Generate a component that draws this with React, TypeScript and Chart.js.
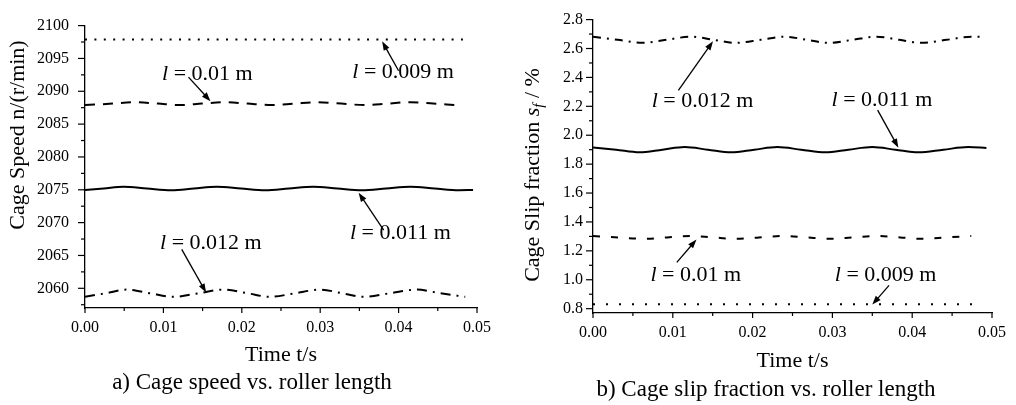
import React, { useEffect, useRef } from 'react';
import { Chart, registerables } from 'chart.js';

Chart.register(...registerables);

const SERIF = '"Liberation Serif", "Times New Roman", Times, serif';

// ---------- Panel a) Cage speed (r/min) ----------
const A_T_009 = [0, 0.012, 0.024, 0.036, 0.0482];
const A_V_009 = [2097.9, 2097.9, 2097.9, 2097.9, 2097.9];

const A_T_010 = [0, 0.0035, 0.0064, 0.0093, 0.0121, 0.0149, 0.0177, 0.0207, 0.0238, 0.0267, 0.0296, 0.0327, 0.0357, 0.0386, 0.0415, 0.0444, 0.0472];
const A_V_010 = [2087.9, 2088.12, 2088.33, 2088.12, 2087.9, 2088.12, 2088.34, 2088.12, 2087.9, 2088.12, 2088.34, 2088.12, 2087.9, 2088.12, 2088.34, 2088.12, 2087.9];

const A_T_011 = [0, 0.0024, 0.0049, 0.0079, 0.011, 0.0139, 0.0168, 0.0199, 0.023, 0.026, 0.0291, 0.0322, 0.0353, 0.0384, 0.0415, 0.0446, 0.0477, 0.0495];
const A_V_011 = [2074.95, 2075.2, 2075.48, 2075.2, 2074.93, 2075.2, 2075.48, 2075.2, 2074.93, 2075.2, 2075.48, 2075.2, 2074.93, 2075.2, 2075.48, 2075.2, 2074.93, 2074.97];

const A_T_012 = [0, 0.0027, 0.0053, 0.0083, 0.0113, 0.0145, 0.0177, 0.0207, 0.0236, 0.0268, 0.03, 0.0328, 0.0355, 0.0389, 0.0423, 0.0453, 0.0485];
const A_V_012 = [2058.72, 2059.25, 2059.8, 2059.25, 2058.7, 2059.25, 2059.8, 2059.25, 2058.7, 2059.25, 2059.8, 2059.25, 2058.7, 2059.25, 2059.8, 2059.25, 2058.7];

const A_Y_MAJOR = [2060, 2065, 2070, 2075, 2080, 2085, 2090, 2095, 2100];
const A_Y_MINOR = [2057.5, 2062.5, 2067.5, 2072.5, 2077.5, 2082.5, 2087.5, 2092.5, 2097.5];

// ---------- Panel b) Cage slip fraction (%) ----------
const B_T_009 = [0, 0.012, 0.024, 0.036, 0.0485];
const B_V_009 = [0.83, 0.83, 0.83, 0.83, 0.83];

const B_T_010 = [0, 0.0032, 0.0064, 0.0093, 0.0122, 0.015, 0.0179, 0.0208, 0.0238, 0.0267, 0.0297, 0.0326, 0.0355, 0.0385, 0.0414, 0.0443, 0.0474];
const B_V_010 = [1.302, 1.293, 1.283, 1.293, 1.303, 1.293, 1.283, 1.293, 1.303, 1.293, 1.283, 1.293, 1.303, 1.293, 1.283, 1.293, 1.303];

const B_T_011 = [0, 0.0029, 0.0058, 0.0087, 0.0115, 0.0144, 0.0173, 0.0202, 0.0231, 0.0261, 0.0291, 0.032, 0.035, 0.0379, 0.0408, 0.0439, 0.047, 0.0493];
const B_V_011 = [1.915, 1.9, 1.882, 1.9, 1.918, 1.9, 1.882, 1.9, 1.918, 1.9, 1.882, 1.9, 1.918, 1.9, 1.882, 1.9, 1.918, 1.912];

const B_T_012 = [0, 0.0031, 0.0062, 0.0092, 0.0123, 0.0151, 0.0179, 0.021, 0.024, 0.0268, 0.0295, 0.0325, 0.0355, 0.0384, 0.0412, 0.0443, 0.0474, 0.0485];
const B_V_012 = [2.682, 2.66, 2.639, 2.66, 2.682, 2.66, 2.639, 2.66, 2.682, 2.66, 2.639, 2.66, 2.682, 2.66, 2.639, 2.66, 2.682, 2.681];

const B_Y_MAJOR = [0.8, 1.0, 1.2, 1.4, 1.6, 1.8, 2.0, 2.2, 2.4, 2.6, 2.8];
const B_Y_MINOR = [0.9, 1.1, 1.3, 1.5, 1.7, 1.9, 2.1, 2.3, 2.5, 2.7];

// ---------- shared ----------
const X_MAJOR = [0, 0.01, 0.02, 0.03, 0.04, 0.05];
const X_MINOR = [0.005, 0.015, 0.025, 0.035, 0.045];
const X_TITLE = 'Time t/s';
const CAPTION_A = 'a) Cage speed vs. roller length';
const CAPTION_B = 'b) Cage slip fraction vs. roller length';
const LABELS = ['0.009', '0.01', '0.011', '0.012'];

type Seg = { t: string; italic?: boolean; sub?: boolean };

function segFont(s: Seg, size: number) {
  const sz = s.sub ? Math.round(size * 0.68) : size;
  return `${s.italic ? 'italic ' : ''}${sz}px ${SERIF}`;
}

function drawRich(ctx: CanvasRenderingContext2D, segs: Seg[], x: number, y: number, size: number, align: 'left' | 'center') {
  let total = 0;
  const widths = segs.map((s) => {
    ctx.font = segFont(s, size);
    const w = ctx.measureText(s.t).width;
    total += w;
    return w;
  });
  let cx = align === 'center' ? x - total / 2 : x;
  ctx.textBaseline = 'middle';
  ctx.textAlign = 'left';
  segs.forEach((s, i) => {
    ctx.font = segFont(s, size);
    ctx.fillText(s.t, cx, s.sub ? y + size * 0.28 : y);
    cx += widths[i];
  });
}

function drawArrow(ctx: CanvasRenderingContext2D, x1: number, y1: number, x2: number, y2: number) {
  const a = Math.atan2(y2 - y1, x2 - x1);
  const hl = 9;
  const hw = 3.2;
  const c = Math.cos(a);
  const s = Math.sin(a);
  ctx.beginPath();
  ctx.moveTo(x1, y1);
  ctx.lineTo(x2 - hl * 0.7 * c, y2 - hl * 0.7 * s);
  ctx.stroke();
  ctx.beginPath();
  ctx.moveTo(x2, y2);
  ctx.lineTo(x2 - hl * c + hw * s, y2 - hl * s - hw * c);
  ctx.lineTo(x2 - hl * c - hw * s, y2 - hl * s + hw * c);
  ctx.closePath();
  ctx.fill();
}

type Anno = { label: string; tx: number; ty: number; fx: number; fy: number; ax: number; ay: number };

type Series = { t: number[]; v: number[]; dash: number[] };

type PanelCfg = {
  left: number;
  yMin: number;
  yMax: number;
  yMajor: number[];
  yMinor: number[];
  yDecimals: number;
  yTickPad: number;
  padTop: number;
  padRight: number;
  yWidth: number;
  xHeight: number;
  series: Series[];
  annos: Anno[];
  yTitle: Seg[];
  yTitleX: number;
  yTitleY: number;
  xTitleOffset: number;
  caption: string;
  captionX: number;
  captionY: number;
};

const PANEL_A: PanelCfg = {
  left: 0,
  yMin: 2057,
  yMax: 2100,
  yMajor: A_Y_MAJOR,
  yMinor: A_Y_MINOR,
  yDecimals: 0,
  yTickPad: 16,
  padTop: 15,
  padRight: 31,
  yWidth: 85,
  xHeight: 97,
  series: [
    { t: A_T_009, v: A_V_009, dash: [2, 7.4] },
    { t: A_T_010, v: A_V_010, dash: [10, 8] },
    { t: A_T_011, v: A_V_011, dash: [] },
    { t: A_T_012, v: A_V_012, dash: [10, 6, 2, 6] },
  ],
  annos: [
    { label: LABELS[0], tx: 0.0341, ty: 2092.94, fx: 0.04, fy: 2093.13, ax: 0.0379, ay: 2097.6 },
    { label: LABELS[1], tx: 0.00983, ty: 2092.65, fx: 0.0132, fy: 2092.16, ax: 0.016, ay: 2088.5 },
    { label: LABELS[2], tx: 0.0338, ty: 2068.38, fx: 0.0381, fy: 2068.87, ax: 0.0349, ay: 2074.55 },
    { label: LABELS[3], tx: 0.00957, ty: 2066.9, fx: 0.01234, fy: 2065.93, ax: 0.01545, ay: 2059.35 },
  ],
  yTitle: [{ t: 'Cage Speed n/(r/min)' }],
  yTitleX: 18,
  yTitleY: 135,
  xTitleOffset: 47,
  caption: CAPTION_A,
  captionX: 252,
  captionY: 383,
};

const PANEL_B: PanelCfg = {
  left: 508,
  yMin: 0.77,
  yMax: 2.8,
  yMajor: B_Y_MAJOR,
  yMinor: B_Y_MINOR,
  yDecimals: 1,
  yTickPad: 10,
  padTop: 15,
  padRight: 19,
  yWidth: 85,
  xHeight: 92,
  series: [
    { t: B_T_009, v: B_V_009, dash: [2, 11] },
    { t: B_T_010, v: B_V_010, dash: [7, 11] },
    { t: B_T_011, v: B_V_011, dash: [] },
    { t: B_T_012, v: B_V_012, dash: [8, 6, 2, 6] },
  ],
  annos: [
    { label: LABELS[3], tx: 0.00736, ty: 2.233, fx: 0.0107, fy: 2.31, ax: 0.01504, ay: 2.65 },
    { label: LABELS[2], tx: 0.0299, ty: 2.24, fx: 0.03567, fy: 2.174, ax: 0.03827, ay: 1.914 },
    { label: LABELS[1], tx: 0.0072, ty: 1.029, fx: 0.0105, fy: 1.12, ax: 0.01297, ay: 1.279 },
    { label: LABELS[0], tx: 0.0303, ty: 1.029, fx: 0.0371, fy: 0.961, ax: 0.035, ay: 0.828 },
  ],
  yTitle: [{ t: 'Cage Slip fraction ' }, { t: 's', italic: true }, { t: 'f', italic: true, sub: true }, { t: ' / %' }],
  yTitleX: 25,
  yTitleY: 175,
  xTitleOffset: 48,
  caption: CAPTION_B,
  captionX: 258,
  captionY: 390,
};

function makeDecor(cfg: PanelCfg) {
  return {
    id: 'decor',
    afterDraw(chart: any) {
      const ctx: CanvasRenderingContext2D = chart.ctx;
      const xs = chart.scales.x;
      const ys = chart.scales.y;
      const { left, right, bottom } = chart.chartArea;
      ctx.save();
      ctx.strokeStyle = '#000';
      ctx.fillStyle = '#000';
      ctx.lineWidth = 1.2;
      // tick marks
      const tick = (x1: number, y1: number, x2: number, y2: number) => {
        ctx.beginPath();
        ctx.moveTo(x1, y1);
        ctx.lineTo(x2, y2);
        ctx.stroke();
      };
      X_MAJOR.forEach((v) => { const p = xs.getPixelForValue(v); tick(p, bottom, p, bottom + 5); });
      X_MINOR.forEach((v) => { const p = xs.getPixelForValue(v); tick(p, bottom, p, bottom + 3); });
      cfg.yMajor.forEach((v) => { const p = ys.getPixelForValue(v); tick(left, p, left - 7, p); });
      cfg.yMinor.forEach((v) => { const p = ys.getPixelForValue(v); tick(left, p, left - 4, p); });

      // x title
      drawRich(ctx, [{ t: X_TITLE }], (left + right) / 2, bottom + cfg.xTitleOffset, 22, 'center');
      // caption
      drawRich(ctx, [{ t: cfg.caption }], cfg.captionX, cfg.captionY, 23, 'center');
      // y title
      ctx.save();
      ctx.translate(cfg.yTitleX, cfg.yTitleY);
      ctx.rotate(-Math.PI / 2);
      drawRich(ctx, cfg.yTitle, 0, 0, 22, 'center');
      ctx.restore();

      // annotations
      ctx.lineWidth = 1.3;
      cfg.annos.forEach((a) => {
        drawRich(
          ctx,
          [{ t: 'l', italic: true }, { t: ' = ' + a.label + ' m' }],
          xs.getPixelForValue(a.tx),
          ys.getPixelForValue(a.ty),
          22,
          'left'
        );
        drawArrow(
          ctx,
          xs.getPixelForValue(a.fx),
          ys.getPixelForValue(a.fy),
          xs.getPixelForValue(a.ax),
          ys.getPixelForValue(a.ay)
        );
      });
      ctx.restore();
    },
  };
}

function Panel({ cfg }: { cfg: PanelCfg }) {
  const ref = useRef<HTMLCanvasElement | null>(null);
  useEffect(() => {
    if (!ref.current) return;
    const tickFont = { family: SERIF, size: 16 };
    const chart = new Chart(ref.current, {
      type: 'line',
      data: {
        datasets: cfg.series.map((s) => ({
          data: s.t.map((t, i) => ({ x: t, y: s.v[i] })),
          borderColor: '#000',
          borderWidth: 2,
          borderDash: s.dash,
          borderCapStyle: 'butt',
          pointRadius: 0,
          fill: false,
          cubicInterpolationMode: 'monotone',
        })),
      },
      options: {
        animation: false,
        responsive: false,
        maintainAspectRatio: false,
        devicePixelRatio: 1,
        layout: { padding: { left: 0, top: cfg.padTop, right: cfg.padRight, bottom: 0 } },
        plugins: { legend: { display: false }, tooltip: { enabled: false }, title: { display: false } },
        scales: {
          x: {
            type: 'linear',
            min: 0,
            max: 0.05,
            afterBuildTicks: (s: any) => { s.ticks = X_MAJOR.map((v) => ({ value: v })); },
            afterFit: (s: any) => { s.height = cfg.xHeight; },
            grid: { display: false, drawTicks: false },
            border: { display: true, color: '#000', width: 1.3 },
            ticks: {
              font: tickFont,
              color: '#000',
              padding: 10,
              maxRotation: 0,
              autoSkip: false,
              callback: (v: any) => Number(v).toFixed(2),
            },
          },
          y: {
            type: 'linear',
            min: cfg.yMin,
            max: cfg.yMax,
            afterBuildTicks: (s: any) => { s.ticks = cfg.yMajor.map((v) => ({ value: v })); },
            afterFit: (s: any) => { s.width = cfg.yWidth; },
            grid: { display: false, drawTicks: false },
            border: { display: true, color: '#000', width: 1.3 },
            ticks: {
              font: tickFont,
              color: '#000',
              padding: cfg.yTickPad,
              autoSkip: false,
              callback: (v: any) => Number(v).toFixed(cfg.yDecimals),
            },
          },
        },
      } as any,
      plugins: [makeDecor(cfg)],
    });
    return () => chart.destroy();
  }, [cfg]);
  return (
    <canvas
      ref={ref}
      width={508}
      height={405}
      style={{ position: 'absolute', left: cfg.left, top: 0, width: 508, height: 405 }}
    />
  );
}

export default function App() {
  return (
    <div style={{ position: 'absolute', left: 0, top: 0, width: 1016, height: 405, background: '#fff' }}>
      <Panel cfg={PANEL_A} />
      <Panel cfg={PANEL_B} />
    </div>
  );
}
